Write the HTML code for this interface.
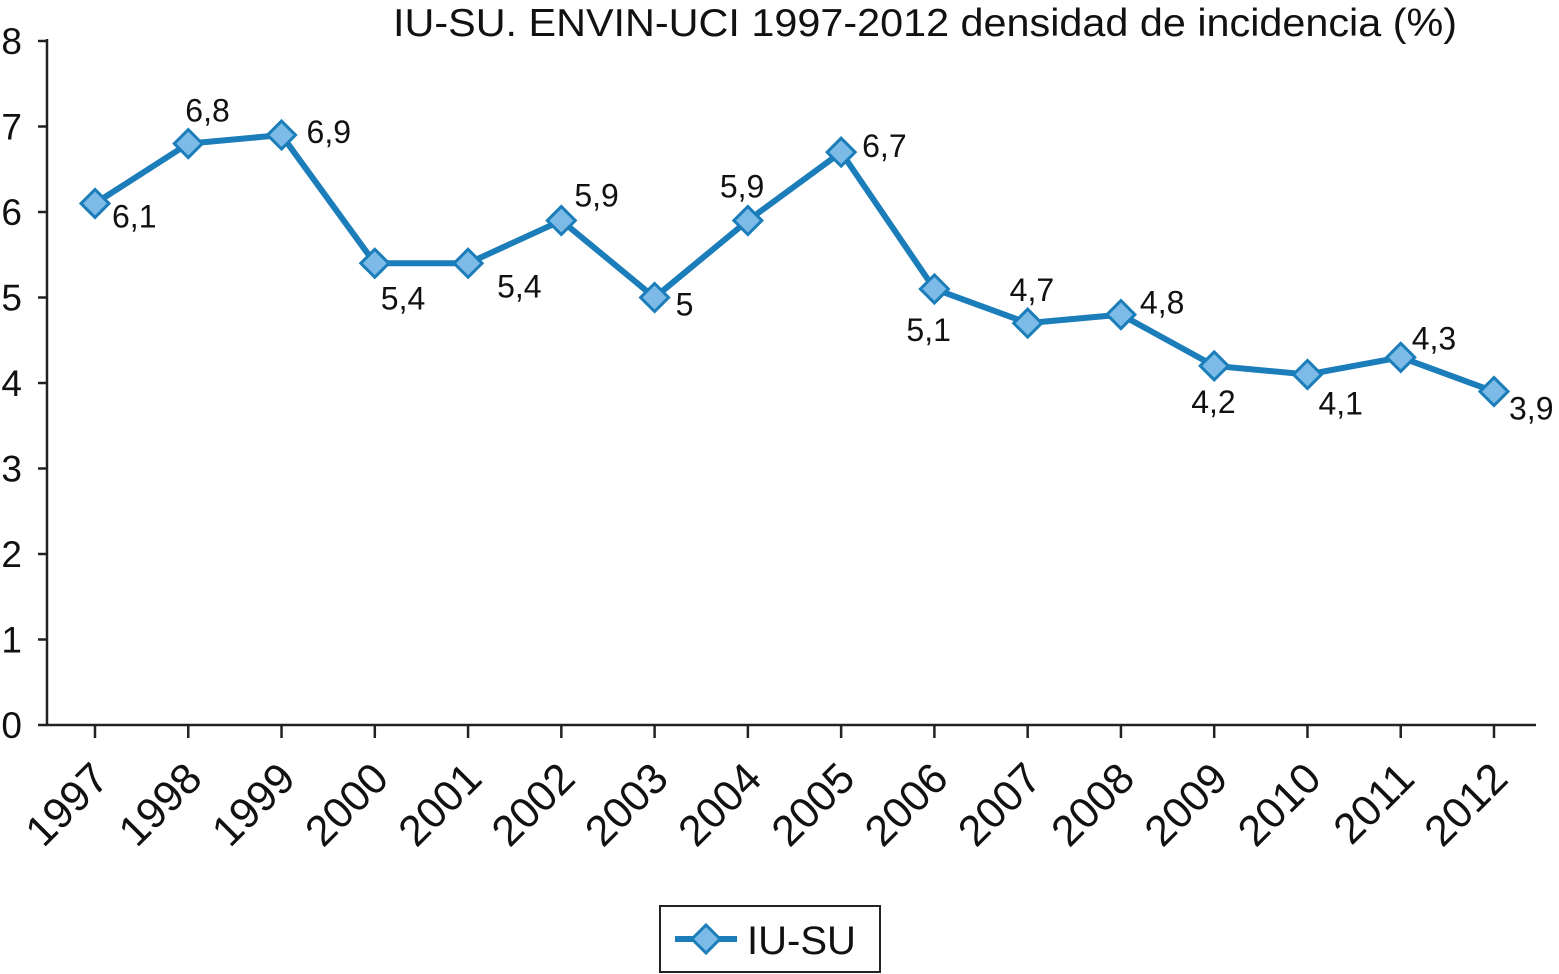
<!DOCTYPE html>
<html><head><meta charset="utf-8"><style>
body{margin:0;background:#fff;}
svg{display:block;font-family:"Liberation Sans",Arial,sans-serif;}
</style></head><body>
<svg id="chart" width="1559" height="974" viewBox="0 0 1559 974">
<text x="925" y="36" font-size="39" text-anchor="middle" fill="#111" textLength="1064" lengthAdjust="spacingAndGlyphs">IU-SU. ENVIN-UCI 1997-2012 densidad de incidencia (%)</text>
<g id="axes"></g>
<g id="series"></g>
<g>
<rect x="660" y="906" width="220" height="66" fill="#fff" stroke="#222" stroke-width="2"/>
<line x1="675" y1="939" x2="737" y2="939" stroke="#1b7db9" stroke-width="6"/>
<path d="M706 925 L720 939 L706 953 L692 939 Z" fill="#7cbbe8" stroke="#1b7db9" stroke-width="3"/>
<text x="747" y="954" font-size="40" fill="#111">IU-SU</text>
</g>
</svg>
<script>
const categories=["1997","1998","1999","2000","2001","2002","2003","2004","2005","2006","2007","2008","2009","2010","2011","2012"];
const values=[6.1,6.8,6.9,5.4,5.4,5.9,5,5.9,6.7,5.1,4.7,4.8,4.2,4.1,4.3,3.9];
const valueLabels=["6,1","6,8","6,9","5,4","5,4","5,9","5","5,9","6,7","5,1","4,7","4,8","4,2","4,1","4,3","3,9"];
const yTicks=[0,1,2,3,4,5,6,7,8];
const labelDx=[17,-3,25,6,29,13,21,-28,21,-28,-18,19,-23,11,11,15];
const labelDy=[24,-22,8,46,34,-14,18,-23,5,52,-22,-1,47,40,-8,28];
const NS="http://www.w3.org/2000/svg";
const x0=95,x1=1494,yZero=725,yTop=41;
const xs=i=>x0+(x1-x0)*i/(categories.length-1);
const ys=v=>yZero-(yZero-yTop)*v/8;
function mk(t,a,p){const e=document.createElementNS(NS,t);for(const k in a)e.setAttribute(k,a[k]);p.appendChild(e);return e;}
const ax=document.getElementById('axes'),se=document.getElementById('series');
let l=mk('line',{x1:47,y1:yTop-2,x2:47,y2:yZero+1,stroke:'#222','stroke-width':2.5},ax);


l=mk('line',{x1:46,y1:yZero,x2:1536,y2:yZero,stroke:'#222','stroke-width':2.5},ax);


yTicks.forEach(v=>{
 const t=mk('line',{x1:38,y1:ys(v),x2:47,y2:ys(v),stroke:'#222','stroke-width':2.5},ax);
 
 
 const tx=mk('text',{x:22,y:ys(v)+13,'font-size':37,'text-anchor':'end',fill:'#111'},ax);
 
 
 tx.textContent=v;
});
categories.forEach((c,i)=>{
 const x=xs(i);
 const t=mk('line',{x1:x,y1:yZero,x2:x,y2:yZero+13,stroke:'#222','stroke-width':2.5},ax);
 
 
 const tx=mk('text',{x:x+16,y:yZero+56,'font-size':43,'text-anchor':'end',fill:'#111',transform:`rotate(-45 ${x+16} ${yZero+56})`},ax);
 
 
 tx.textContent=c;
});
const pl=mk('polyline',{points:values.map((v,i)=>xs(i)+','+ys(v)).join(' '),fill:'none',stroke:'#1b7db9','stroke-width':6,'stroke-linejoin':'round'},se);


values.forEach((v,i)=>{
 const x=xs(i),y=ys(v);
 const m=mk('path',{d:`M${x} ${y-14} L${x+14} ${y} L${x} ${y+14} L${x-14} ${y} Z`,fill:'#7cbbe8',stroke:'#1b7db9','stroke-width':3},se);
 
 
 const tx=mk('text',{x:x+labelDx[i],y:y+labelDy[i],'font-size':32,fill:'#111'},se);
 
 
 tx.textContent=valueLabels[i];
});
</script>
</body></html>
